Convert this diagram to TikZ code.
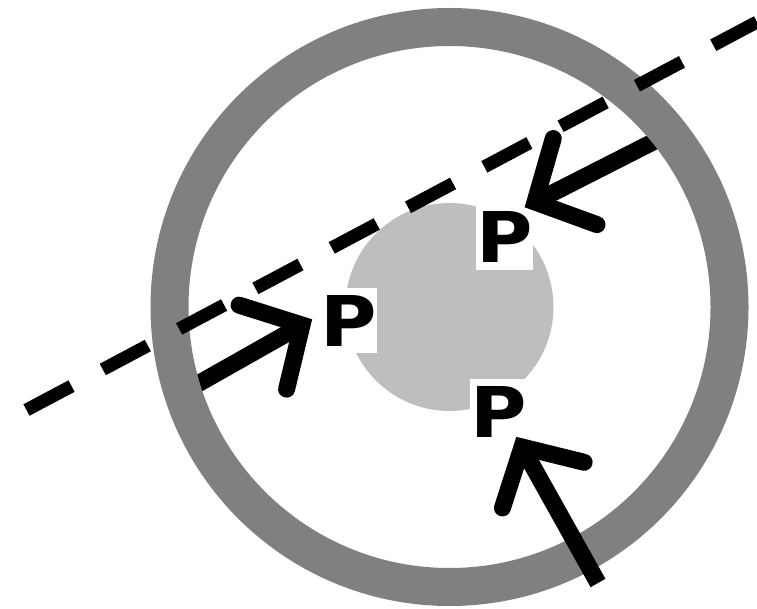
\documentclass[tikz,border=0pt]{standalone}
\usepackage{fontspec}
\usepackage{graphicx}
\newfontfamily\pfont{DejaVu Sans}
\usetikzlibrary{calc}
\definecolor{ringgray}{RGB}{128,128,128}
\definecolor{coregray}{RGB}{190,190,190}
\tikzset{
 ringline/.style={draw=ringgray, line width=38pt},
 corefill/.style={fill=coregray},
 dashline/.style={line width=13pt, dash pattern=on 51pt off 35.4pt, line cap=butt},
 shaftline/.style={line width=17pt, line cap=butt},
 headline/.style={line width=17pt, line cap=round, line join=miter, miter limit=10},
 plabel/.style={fill=white, inner xsep=0pt, inner ysep=7pt, font=\pfont\bfseries\fontsize{70}{70}\selectfont},
}
\begin{document}
\begin{tikzpicture}[x=1pt,y=-1pt]
\useasboundingbox (0,0) rectangle (757,609);
\fill[white] (0,0) rectangle (757,609);
\coordinate (c) at (449.5,307);
\coordinate (t1) at (302,325); \coordinate (s1) at (180,394);
\coordinate (t2) at (535,202); \coordinate (s2) at (668.7,134);
\coordinate (t3) at (522,447); \coordinate (s3) at (598,583);
\draw[shaftline] (s1) -- (t1);
\draw[shaftline] (s2) -- (t2);
\draw[ringline] (c) circle[radius=280pt];
\fill[corefill] (c) circle[radius=104pt];
\node[plabel] (p1) at (348.5,320.5) {\scalebox{1.1}[1]{P}};
\node[plabel] (p2) at (504.5,237) {\scalebox{1.1}[1]{P}};
\node[plabel] (p3) at (498.5,411.5) {\scalebox{1.1}[1]{P}};
\coordinate (ds) at (26.5,410); \coordinate (de) at (757,22);
\draw[dashline] (ds) -- (de);
\draw[headline] ($(t1)!66pt!47:(s1)$) -- (t1) -- ($(t1)!66pt!-47:(s1)$);
\draw[headline] ($(t2)!66pt!47:(s2)$) -- (t2) -- ($(t2)!66pt!-47:(s2)$);
\draw[shaftline] (s3) -- (t3);
\draw[headline] ($(t3)!64pt!47:(s3)$) -- (t3) -- ($(t3)!64pt!-47:(s3)$);
\end{tikzpicture}
\end{document}
